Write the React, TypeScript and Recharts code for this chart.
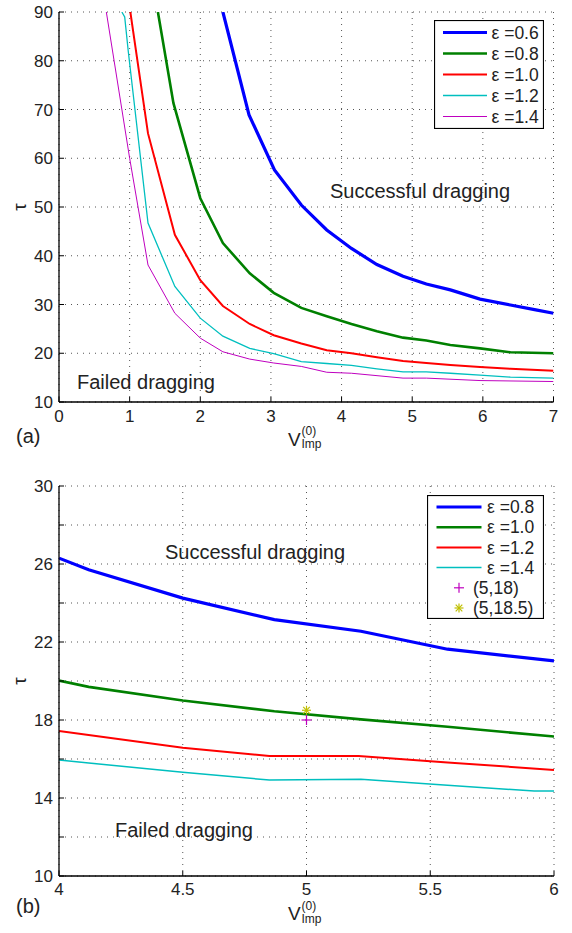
import React from 'react';
import {
  LineChart,
  ComposedChart,
  Line,
  Scatter,
  XAxis,
  YAxis,
  CartesianGrid,
  Legend,
} from 'recharts';

const FONT = '"Liberation Sans", Arial, Helvetica, sans-serif';
const TXT = '#222';

// ---------- Panel (a) ----------
const aXTicks = [0, 1, 2, 3, 4, 5, 6, 7];
const aYTicks = [10, 20, 30, 40, 50, 60, 70, 80, 90];

const aEps06X = [2.32, 2.69, 3.05, 3.43, 3.79, 4.14, 4.5, 4.87, 5.2, 5.54, 5.96, 6.39, 6.75, 7];
const aEps06Y = [90, 68.9, 57.6, 50.4, 45.3, 41.5, 38.2, 35.8, 34.2, 33.0, 31.1, 29.9, 28.9, 28.2];

const aEps08X = [1.4, 1.62, 2.0, 2.32, 2.7, 3.04, 3.43, 3.79, 4.14, 4.5, 4.87, 5.2, 5.54, 5.96, 6.39, 7];
const aEps08Y = [90, 71.3, 51.8, 42.6, 36.4, 32.4, 29.3, 27.6, 26.0, 24.5, 23.2, 22.6, 21.7, 21.0, 20.2, 20.0];

const aEps10X = [1.01, 1.26, 1.64, 2.0, 2.32, 2.7, 3.04, 3.43, 3.79, 4.14, 4.5, 4.87, 5.2, 5.54, 5.96, 6.39, 7];
const aEps10Y = [90, 65.1, 44.3, 35.0, 29.7, 26.0, 23.7, 22.0, 20.6, 20.0, 19.2, 18.4, 18.0, 17.6, 17.2, 16.8, 16.4];

const aEps12X = [0.89, 0.93, 0.98, 1.26, 1.64, 2.0, 2.32, 2.7, 3.04, 3.43, 3.79, 4.14, 4.5, 4.87, 5.2, 5.54, 5.96, 6.39, 7];
const aEps12Y = [90, 89, 82, 46.7, 33.7, 27.2, 23.5, 21.0, 19.9, 18.3, 17.9, 17.5, 16.8, 16.2, 16.2, 15.9, 15.5, 15.1, 14.9];

const aEps14X = [0.67, 1.0, 1.26, 1.64, 2.0, 2.32, 2.7, 3.04, 3.43, 3.79, 4.14, 4.87, 5.2, 5.96, 7];
const aEps14Y = [90, 60, 38.1, 28.2, 23.1, 20.3, 18.8, 18.0, 17.3, 16.1, 15.9, 14.9, 14.9, 14.4, 14.2];

// ---------- Panel (b) ----------
const bXTicks = [4, 4.5, 5, 5.5, 6];
const bYTicks = [10, 12, 14, 16, 18, 20, 22, 24, 26, 28, 30];
const bYLabelled = [10, 14, 18, 22, 26, 30];

const bEps08X = [4, 4.12, 4.5, 4.87, 5.22, 5.57, 6];
const bEps08Y = [26.3, 25.7, 24.25, 23.15, 22.55, 21.63, 21.03];

const bEps10X = [4, 4.12, 4.5, 4.87, 5.22, 5.57, 6];
const bEps10Y = [20.02, 19.7, 19.0, 18.45, 18.03, 17.65, 17.15];

const bEps12X = [4, 4.5, 4.85, 5.21, 5.57, 6];
const bEps12Y = [17.44, 16.58, 16.15, 16.15, 15.82, 15.44];

const bEps14X = [4, 4.12, 4.5, 4.85, 5.22, 5.57, 5.92, 6];
const bEps14Y = [15.95, 15.8, 15.32, 14.92, 14.96, 14.65, 14.36, 14.36];

const bPlusX = [5];
const bPlusY = [18];
const bStarX = [5];
const bStarY = [18.5];

const toPts = (xs: number[], ys: number[]) => xs.map((x, i) => ({ x, y: ys[i] }));

type Series = { name: string; color: string; width: number; xs: number[]; ys: number[] };

const seriesA: Series[] = [
  { name: 'ε =0.6', color: '#0000ff', width: 3.2, xs: aEps06X, ys: aEps06Y },
  { name: 'ε =0.8', color: '#008000', width: 2.6, xs: aEps08X, ys: aEps08Y },
  { name: 'ε =1.0', color: '#ff0000', width: 2, xs: aEps10X, ys: aEps10Y },
  { name: 'ε =1.2', color: '#00bfbf', width: 1.3, xs: aEps12X, ys: aEps12Y },
  { name: 'ε =1.4', color: '#bf00bf', width: 1, xs: aEps14X, ys: aEps14Y },
];

const seriesB: Series[] = [
  { name: 'ε =0.8', color: '#0000ff', width: 3.2, xs: bEps08X, ys: bEps08Y },
  { name: 'ε =1.0', color: '#008000', width: 2.6, xs: bEps10X, ys: bEps10Y },
  { name: 'ε =1.2', color: '#ff0000', width: 2, xs: bEps12X, ys: bEps12Y },
  { name: 'ε =1.4', color: '#00bfbf', width: 1.5, xs: bEps14X, ys: bEps14Y },
];

const plusColor = '#bf00bf';
const starColor = '#bfbf00';

// ---------- ticks ----------
const makeLeftTick = (show: (v: number) => boolean) => (props: any) => {
  const { x, y, payload } = props;
  return (
    <g>
      <line x1={x + 6} x2={x + 11} y1={y} y2={y} stroke="#000" strokeWidth={1} />
      {show(payload.value) && (
        <text x={x} y={y} dy="0.355em" textAnchor="end" fontSize={17} fill={TXT} fontFamily={FONT}>
          {payload.value}
        </text>
      )}
    </g>
  );
};

const makeBottomTick = (margin: number) => (props: any) => {
  const { x, y, payload } = props;
  return (
    <g>
      <line x1={x} x2={x} y1={y - margin} y2={y - margin - 5} stroke="#000" strokeWidth={1} />
      <text x={x} y={y} dy="0.71em" textAnchor="middle" fontSize={17} fill={TXT} fontFamily={FONT}>
        {payload.value}
      </text>
    </g>
  );
};

const TopTick = (props: any) => {
  const { x, y } = props;
  return <line x1={x} x2={x} y1={y} y2={y + 5} stroke="#000" strokeWidth={1} />;
};

const RightTick = (props: any) => {
  const { x, y } = props;
  return <line x1={x - 5} x2={x} y1={y} y2={y} stroke="#000" strokeWidth={1} />;
};

// ---------- markers ----------
const PlusShape = (props: any) => {
  const { cx, cy } = props;
  return (
    <g stroke={plusColor} strokeWidth={1.2}>
      <line x1={cx - 5} x2={cx + 5} y1={cy} y2={cy} />
      <line x1={cx} x2={cx} y1={cy - 5} y2={cy + 5} />
    </g>
  );
};

const StarShape = (props: any) => {
  const { cx, cy } = props;
  const r = 4.5;
  const d = 3.3;
  return (
    <g stroke={starColor} strokeWidth={1.2}>
      <line x1={cx - r} x2={cx + r} y1={cy} y2={cy} />
      <line x1={cx} x2={cx} y1={cy - r} y2={cy + r} />
      <line x1={cx - d} x2={cx + d} y1={cy - d} y2={cy + d} />
      <line x1={cx - d} x2={cx + d} y1={cy + d} y2={cy - d} />
    </g>
  );
};

// ---------- legend ----------
type LegendItem = { label: string; color: string; width: number; kind: 'line' | 'plus' | 'star' };

const LegendBox = ({
  items,
  w,
  h,
  row0,
  step,
  lx1,
  lx2,
  tx,
  mx,
  mtx,
}: {
  items: LegendItem[];
  w: number;
  h: number;
  row0: number;
  step: number;
  lx1: number;
  lx2: number;
  tx: number;
  mx: number;
  mtx: number;
}) => (
  <svg width={w} height={h} style={{ display: 'block' }}>
    <rect x={0.5} y={0.5} width={w - 1} height={h - 1} fill="#fff" stroke="#000" strokeWidth={1.2} />
    {items.map((it, i) => {
      const cy = row0 + i * step;
      if (it.kind === 'line') {
        return (
          <g key={i}>
            <line x1={lx1} x2={lx2} y1={cy} y2={cy} stroke={it.color} strokeWidth={it.width} />
            <text x={tx} y={cy} dy="0.355em" fontSize={17.5} fill={TXT} fontFamily={FONT}>
              {it.label}
            </text>
          </g>
        );
      }
      return (
        <g key={i}>
          {it.kind === 'plus' ? <PlusShape cx={mx} cy={cy} /> : <StarShape cx={mx} cy={cy} />}
          <text x={mtx} y={cy} dy="0.355em" fontSize={17.5} fill={TXT} fontFamily={FONT}>
            {it.label}
          </text>
        </g>
      );
    })}
  </svg>
);

const legendItemsA: LegendItem[] = seriesA.map((s) => ({ label: s.name, color: s.color, width: s.width, kind: 'line' }));
const legendItemsB: LegendItem[] = [
  ...seriesB.map((s) => ({ label: s.name, color: s.color, width: s.width, kind: 'line' as const })),
  { label: '(5,18)', color: plusColor, width: 1, kind: 'plus' },
  { label: '(5,18.5)', color: starColor, width: 1, kind: 'star' },
];

const axisLine = { stroke: '#000', strokeWidth: 1.3 };

const XLabel = ({ x, y, supDy, subDy }: { x: number; y: number; supDy: number; subDy: number }) => (
  <g fontFamily={FONT} fill={TXT}>
    <text x={x} y={y} fontSize={19}>V</text>
    <text x={x + 13.5} y={y + supDy} fontSize={12}>(0)</text>
    <text x={x + 13.5} y={y + subDy} fontSize={12}>Imp</text>
  </g>
);

export default function App() {
  return (
    <div style={{ position: 'absolute', left: 0, top: 0, width: 572, height: 933, background: '#fff', fontFamily: FONT }}>
      <div style={{ position: 'absolute', left: 0, top: 0 }}>
        <LineChart width={572} height={459} margin={{ top: 12, right: 18.5, left: 0, bottom: 0 }}>
          <CartesianGrid stroke="#555" strokeDasharray="1 5" />
          <XAxis
            dataKey="x"
            type="number"
            domain={[0, 7]}
            ticks={aXTicks}
            interval={0}
            allowDataOverflow
            height={57}
            tickSize={0}
            tickMargin={8}
            tick={makeBottomTick(8)}
            axisLine={axisLine}
          />
          <XAxis
            xAxisId="top"
            orientation="top"
            type="number"
            domain={[0, 7]}
            ticks={aXTicks}
            interval={0}
            height={0}
            tickSize={0}
            tickMargin={0}
            tick={TopTick}
            axisLine={axisLine}
          />
          <YAxis
            type="number"
            domain={[10, 90]}
            ticks={aYTicks}
            interval={0}
            allowDataOverflow
            width={59}
            tickSize={0}
            tickMargin={6}
            tick={makeLeftTick(() => true)}
            axisLine={axisLine}
          />
          <YAxis
            yAxisId="right"
            orientation="right"
            type="number"
            domain={[10, 90]}
            ticks={aYTicks}
            interval={0}
            width={0}
            tickSize={0}
            tickMargin={0}
            tick={RightTick}
            axisLine={axisLine}
          />
          {seriesA.map((s) => (
            <Line
              key={s.name}
              data={toPts(s.xs, s.ys)}
              dataKey="y"
              name={s.name}
              type="linear"
              stroke={s.color}
              strokeWidth={s.width}
              dot={false}
              activeDot={false}
              isAnimationActive={false}
            />
          ))}
          <Legend
            layout="horizontal"
            verticalAlign="middle"
            align="center"
            wrapperStyle={{ position: 'absolute', left: 434, top: 20, width: 110, height: 109 }}
            content={() => (
              <LegendBox items={legendItemsA} w={110} h={109} row0={12.5} step={21} lx1={9} lx2={53} tx={57.5} mx={32} mtx={46} />
            )}
          />
        </LineChart>
      </div>

      <div style={{ position: 'absolute', left: 0, top: 474 }}>
        <ComposedChart width={572} height={459} margin={{ top: 12, right: 18, left: 0, bottom: 0 }}>
          <CartesianGrid stroke="#555" strokeDasharray="1 5" />
          <XAxis
            dataKey="x"
            type="number"
            domain={[4, 6]}
            ticks={bXTicks}
            interval={0}
            allowDataOverflow
            height={57}
            tickSize={0}
            tickMargin={7}
            tick={makeBottomTick(7)}
            axisLine={axisLine}
          />
          <XAxis
            xAxisId="top"
            orientation="top"
            type="number"
            domain={[4, 6]}
            ticks={bXTicks}
            interval={0}
            height={0}
            tickSize={0}
            tickMargin={0}
            tick={TopTick}
            axisLine={axisLine}
          />
          <YAxis
            type="number"
            domain={[10, 30]}
            ticks={bYTicks}
            interval={0}
            allowDataOverflow
            width={59}
            tickSize={0}
            tickMargin={6}
            tick={makeLeftTick((v) => bYLabelled.includes(v))}
            axisLine={axisLine}
          />
          <YAxis
            yAxisId="right"
            orientation="right"
            type="number"
            domain={[10, 30]}
            ticks={bYTicks}
            interval={0}
            width={0}
            tickSize={0}
            tickMargin={0}
            tick={RightTick}
            axisLine={axisLine}
          />
          {seriesB.map((s) => (
            <Line
              key={s.name}
              data={toPts(s.xs, s.ys)}
              dataKey="y"
              name={s.name}
              type="linear"
              stroke={s.color}
              strokeWidth={s.width}
              dot={false}
              activeDot={false}
              isAnimationActive={false}
            />
          ))}
          <Scatter data={toPts(bPlusX, bPlusY)} dataKey="y" name="(5,18)" shape={PlusShape} isAnimationActive={false} />
          <Scatter data={toPts(bStarX, bStarY)} dataKey="y" name="(5,18.5)" shape={StarShape} isAnimationActive={false} />
          <Legend
            layout="horizontal"
            verticalAlign="middle"
            align="center"
            wrapperStyle={{ position: 'absolute', left: 427, top: 21, width: 117, height: 124 }}
            content={() => (
              <LegendBox items={legendItemsB} w={117} h={124} row0={12} step={20.2} lx1={9.5} lx2={54.5} tx={60} mx={32} mtx={46} />
            )}
          />
        </ComposedChart>
      </div>

      <svg
        width={572}
        height={933}
        style={{ position: 'absolute', left: 0, top: 0, pointerEvents: 'none' }}
      >
        <g fontFamily={FONT} fill={TXT}>
          <text x={330} y={198} fontSize={20}>Successful dragging</text>
          <text x={77} y={388.5} fontSize={20}>Failed dragging</text>
          <text x={165} y={559} fontSize={20}>Successful dragging</text>
          <text x={115} y={837} fontSize={20}>Failed dragging</text>
          <text x={16} y={443} fontSize={20}>(a)</text>
          <text x={16} y={913} fontSize={20}>(b)</text>
          <text x={19.5} y={207} fontSize={19} textAnchor="middle" dy="0.35em" transform="rotate(-90 19.5 207)">τ</text>
          <text x={19.5} y={681} fontSize={19} textAnchor="middle" dy="0.35em" transform="rotate(-90 19.5 681)">τ</text>
        </g>
        <XLabel x={288} y={446} supDy={-11} subDy={1.5} />
        <XLabel x={288} y={919.5} supDy={-9.5} subDy={3} />
      </svg>
    </div>
  );
}
